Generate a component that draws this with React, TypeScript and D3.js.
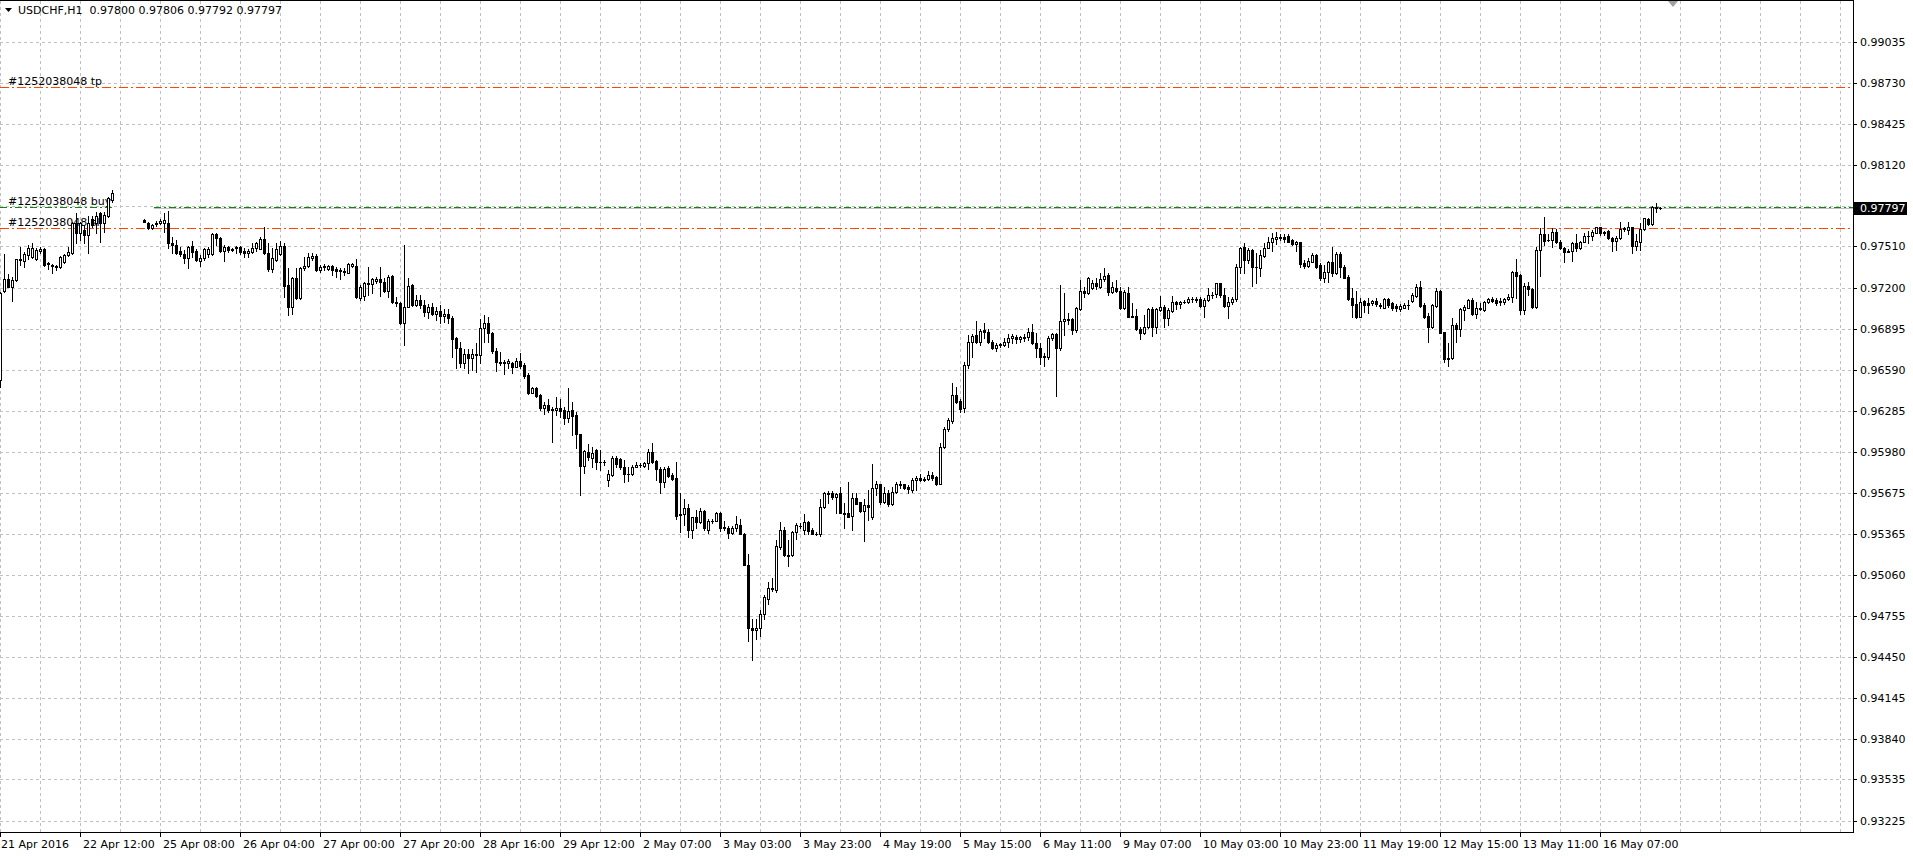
import React from "react";
import * as d3 from "d3";

// ---------- data ----------
const symbolTitle = "USDCHF,H1";
const headerQuote = [0.978, 0.97806, 0.97792, 0.97797]; // O H L C of the last bar
const bidPrice = 0.97797;
const orderTicket = "#1252038048";
const orderOpenPrice = 0.97802;
const orderSl = 0.97645;
const orderTp = 0.987;

const priceTicks = [
  0.99035, 0.9873, 0.98425, 0.9812, 0.97815, 0.9751, 0.972, 0.96895, 0.9659, 0.96285,
  0.9598, 0.95675, 0.95365, 0.9506, 0.94755, 0.9445, 0.94145, 0.9384, 0.93535, 0.93225,
];
const timeLabels = [
  "21 Apr 2016", "22 Apr 12:00", "25 Apr 08:00", "26 Apr 04:00", "27 Apr 00:00", "27 Apr 20:00",
  "28 Apr 16:00", "29 Apr 12:00", "2 May 07:00", "3 May 03:00", "3 May 23:00", "4 May 19:00",
  "5 May 15:00", "6 May 11:00", "9 May 07:00", "10 May 03:00", "10 May 23:00", "11 May 19:00",
  "12 May 15:00", "13 May 11:00", "16 May 07:00",
];
const barsPerTimeLabel = 20;
const barsPerGridColumn = 10;

const N = null;
const open = [
  .96513,.97180,.97267,.97210,.97259,.97414,.97404,.97446,.97433,.97419,
  .97476,.97493,.97384,.97371,.97364,.97354,.97391,.97443,.97458,.97687,
  .97613,.97632,.97595,.97712,.97687,.97762,.97687,.97739,.97856,N,
  N,N,N,N,N,N,.97707,.97687,.97645,.97675,
  .97682,.97682,.97682,.97538,.97521,.97478,.97453,.97426,.97513,.97478,
  .97404,.97421,.97453,.97453,.97600,.97570,.97478,.97508,.97491,.97508,
  .97508,.97478,.97458,.97471,.97496,.97493,.97565,.97458,.97341,.97409,
  .97453,.97516,.97222,.97060,.97272,.97123,.97346,.97364,.97421,.97438,
  .97334,.97354,.97339,.97364,.97339,.97334,.97319,.97314,.97364,.97364,
  .97123,.97140,.97230,.97230,.97254,.97269,.97247,.97180,.97289,.97098,
  .97090,.96941,.97060,.97222,.97073,.97110,.97070,.97020,.97060,.97010,
  .97030,.96990,.97010,.96975,.96824,.96750,.96643,.96705,.96675,.96700,
  .96700,.96899,.96936,.96862,.96732,.96650,.96638,.96638,.96638,.96613,
  .96658,.96625,.96551,.96419,.96451,.96401,.96307,.96327,.96294,.96294,
  .96307,.96290,.96232,.96290,.96252,.96110,.95874,.95979,.95936,.95991,
  .95904,.95904,.95767,.95805,.95936,.95924,.95867,.95812,.95810,.95867,
  .95877,.95874,.95892,.95974,.95909,.95847,.95755,.95859,.95805,.95780,
  .95514,.95514,.95563,.95399,.95489,.95456,.95538,.95399,.95459,.95464,
  .95519,.95414,.95414,.95374,.95407,.95431,.95369,.95138,.94661,.94653,
  .94668,.94772,.94884,.94959,.94951,.95270,.95399,.95208,.95208,.95377,
  .95424,.95399,.95456,.95399,.95367,.95369,.95568,.95663,.95675,.95643,
  .95668,.95523,.95523,.95499,.95635,.95601,.95538,.95581,.95489,.95705,
  .95735,.95606,.95675,.95588,.95680,.95742,.95737,.95717,.95693,.95767,
  .95780,.95775,.95775,.95809,.95787,.95742,.96016,.96145,.96210,.96401,
  .96357,.96302,.96625,.96794,.96849,.96794,.96886,.96874,.96799,.96755,
  .96774,.96774,.96799,.96824,.96837,.96817,.96837,.96832,.96869,.96792,
  .96755,.96687,.96682,.96824,.96854,.96750,.96954,.96966,.96966,.96886,
  .97046,.97177,.97160,.97197,.97235,.97205,.97264,.97297,.97172,.97197,
  .97177,.97053,.97165,.96991,.96991,.96891,.96861,.96911,.97041,.96906,
  .97036,.97055,.96973,.97031,.97093,.97080,.97095,.97093,.97115,.97120,
  .97115,.97065,.97110,.97145,.97152,.97235,.97148,.97065,.97098,.97115,
  .97359,.97503,.97409,.97483,.97359,.97351,.97441,.97501,.97540,.97563,
  .97575,.97583,.97590,.97558,.97526,.97540,.97384,.97366,.97396,.97446,
  .97371,.97277,.97317,.97391,.97314,.97456,.97359,.97279,.97123,.97078,
  .96986,.97103,.97090,.97085,.97103,.97073,.97053,.97118,.97090,.97065,
  .97041,.97053,.97070,.97103,.97143,.97207,.97073,.96993,.96911,.97068,
  .97177,.96869,.96672,.96675,.96924,.96894,.97036,.97053,.97110,.97003,
  .97045,.97036,.97093,.97115,.97108,.97093,.97098,.97115,.97130,.97317,
  .97297,.97036,.97217,.97192,.97060,.97483,.97600,.97555,.97558,.97615,
  .97545,.97496,.97471,.97476,.97533,.97496,.97545,.97588,.97590,.97613,
  .97652,.97613,.97625,.97575,.97550,.97570,.97640,.97632,.97652,.97516,
  .97545,.97640,.97715,.97677,.97802,.97800,
];
const high = [
  .97172,.97453,.97302,.97284,.97419,.97508,.97471,.97521,.97533,.97496,
  .97508,.97498,.97396,.97379,.97371,.97438,.97453,.97508,.97695,.97757,
  .97695,.97670,.97737,.97737,.97769,.97769,.97769,.97876,.97931,N,
  N,N,N,N,N,N,.97712,.97695,.97675,.97697,
  .97712,.97757,.97777,.97583,.97558,.97508,.97483,.97513,.97553,.97488,
  .97446,.97496,.97508,.97608,.97613,.97578,.97521,.97513,.97501,.97516,
  .97513,.97496,.97488,.97538,.97545,.97578,.97657,.97533,.97496,.97533,
  .97553,.97538,.97346,.97284,.97346,.97354,.97433,.97463,.97463,.97453,
  .97371,.97379,.97371,.97371,.97354,.97346,.97346,.97384,.97389,.97414,
  .97222,.97247,.97354,.97272,.97284,.97354,.97272,.97297,.97297,.97135,
  .97098,.97521,.97272,.97230,.97147,.97150,.97110,.97080,.97090,.97060,
  .97070,.97040,.97040,.96990,.96837,.96794,.96742,.96742,.96742,.96792,
  .96966,.96998,.96986,.96874,.96750,.96725,.96663,.96670,.96650,.96675,
  .96712,.96638,.96563,.96464,.96464,.96409,.96352,.96369,.96309,.96384,
  .96372,.96309,.96451,.96352,.96277,.96115,.95991,.96036,.96011,.95996,
  .95991,.95916,.95842,.95946,.95946,.95929,.95916,.95867,.95879,.95904,
  .95897,.95904,.95996,.96041,.95916,.95867,.95867,.95874,.95817,.95899,
  .95673,.95623,.95593,.95494,.95548,.95563,.95543,.95474,.95474,.95528,
  .95528,.95461,.95424,.95424,.95499,.95481,.95374,.95215,.94728,.94728,
  .94802,.94909,.95009,.95041,.95320,.95456,.95419,.95320,.95387,.95444,
  .95444,.95514,.95464,.95407,.95382,.95630,.95680,.95688,.95688,.95673,
  .95717,.95598,.95750,.95668,.95668,.95606,.95623,.95693,.95891,.95762,
  .95742,.95713,.95693,.95717,.95750,.95762,.95742,.95730,.95780,.95797,
  .95812,.95787,.95837,.95829,.95797,.96046,.96160,.96227,.96488,.96463,
  .96369,.96650,.96849,.96856,.96956,.96891,.96941,.96891,.96812,.96787,
  .96792,.96824,.96856,.96856,.96849,.96842,.96856,.96899,.96929,.96861,
  .96792,.96717,.96842,.96866,.96861,.97222,.97165,.97011,.96973,.97055,
  .97259,.97210,.97284,.97259,.97272,.97309,.97346,.97309,.97247,.97259,
  .97205,.97185,.97205,.97090,.97041,.96911,.96998,.97048,.97055,.97053,
  .97140,.97073,.97048,.97140,.97105,.97103,.97110,.97135,.97135,.97135,
  .97135,.97123,.97197,.97172,.97240,.97240,.97197,.97135,.97135,.97379,
  .97508,.97533,.97496,.97488,.97458,.97483,.97533,.97583,.97608,.97615,
  .97600,.97600,.97600,.97565,.97550,.97545,.97409,.97421,.97458,.97451,
  .97384,.97371,.97401,.97508,.97471,.97471,.97371,.97297,.97197,.97177,
  .97123,.97110,.97123,.97110,.97123,.97085,.97123,.97128,.97098,.97078,
  .97078,.97085,.97110,.97160,.97227,.97252,.97085,.97011,.97078,.97202,
  .97185,.96874,.96787,.96978,.96936,.97048,.97073,.97118,.97123,.97093,
  .97085,.97103,.97128,.97135,.97123,.97123,.97123,.97152,.97327,.97416,
  .97302,.97235,.97242,.97197,.97508,.97645,.97732,.97600,.97645,.97640,
  .97558,.97508,.97491,.97540,.97600,.97550,.97608,.97625,.97632,.97657,
  .97657,.97625,.97632,.97583,.97590,.97690,.97657,.97690,.97657,.97600,
  .97682,.97724,.97724,.97814,.97831,.97806,
];
const low = [
  .96464,.97172,.97205,.97105,.97254,.97371,.97359,.97414,.97421,.97409,
  .97458,.97364,.97339,.97309,.97334,.97346,.97384,.97438,.97453,.97533,
  .97558,.97533,.97463,.97657,.97608,.97545,.97620,.97727,.97844,N,
  N,N,N,N,N,N,.97690,.97637,.97642,.97665,
  .97677,.97620,.97496,.97458,.97453,.97438,.97389,.97346,.97433,.97404,
  .97364,.97409,.97433,.97446,.97521,.97471,.97404,.97471,.97478,.97458,
  .97453,.97428,.97433,.97463,.97478,.97488,.97453,.97329,.97322,.97404,
  .97446,.97135,.96998,.97006,.97115,.97115,.97334,.97354,.97409,.97329,
  .97322,.97334,.97334,.97297,.97284,.97264,.97297,.97309,.97354,.97123,
  .97110,.97110,.97147,.97160,.97235,.97140,.97172,.97135,.97090,.97065,
  .96931,.96774,.97055,.97065,.97065,.97050,.96990,.96980,.97000,.96960,
  .96940,.96950,.96940,.96682,.96600,.96608,.96600,.96563,.96588,.96575,
  .96638,.96799,.96799,.96717,.96583,.96625,.96556,.96600,.96568,.96608,
  .96605,.96526,.96409,.96414,.96389,.96294,.96260,.96277,.96053,.96252,
  .96240,.96185,.96202,.96103,.96008,.95660,.95817,.95921,.95862,.95847,
  .95842,.95879,.95725,.95797,.95867,.95854,.95755,.95762,.95805,.95862,
  .95867,.95862,.95854,.95892,.95767,.95673,.95713,.95792,.95767,.95481,
  .95382,.95431,.95344,.95339,.95407,.95449,.95399,.95374,.95449,.95459,
  .95389,.95399,.95339,.95362,.95389,.95362,.95133,.94569,.94429,.94586,
  .94603,.94735,.94847,.94941,.94934,.95257,.95203,.95126,.95200,.95327,
  .95414,.95364,.95364,.95364,.95357,.95349,.95563,.95598,.95630,.95524,
  .95519,.95414,.95489,.95399,.95588,.95531,.95315,.95469,.95481,.95655,
  .95593,.95598,.95573,.95581,.95668,.95712,.95698,.95668,.95680,.95693,
  .95762,.95762,.95767,.95772,.95730,.95737,.96004,.96135,.96195,.96339,
  .96277,.96277,.96600,.96687,.96787,.96774,.96824,.96787,.96742,.96732,
  .96762,.96767,.96757,.96792,.96787,.96799,.96807,.96812,.96782,.96687,
  .96633,.96618,.96668,.96812,.96396,.96737,.96849,.96931,.96856,.96874,
  .97036,.97135,.97155,.97190,.97190,.97197,.97254,.97148,.97165,.97172,
  .97046,.97046,.96981,.96981,.96886,.96822,.96856,.96899,.96842,.96866,
  .97031,.96906,.96924,.97023,.97041,.97048,.97085,.97085,.97098,.97098,
  .97060,.96986,.97105,.97123,.97135,.97135,.97055,.96973,.97080,.97105,
  .97309,.97309,.97384,.97215,.97235,.97292,.97434,.97496,.97476,.97526,
  .97558,.97540,.97540,.97521,.97476,.97359,.97351,.97359,.97391,.97351,
  .97259,.97242,.97247,.97292,.97304,.97284,.97272,.97110,.96986,.96973,
  .96981,.97023,.97011,.97073,.97068,.97053,.97048,.97060,.97036,.97028,
  .97028,.97048,.97043,.97098,.97135,.97060,.96978,.96799,.96904,.97060,
  .96861,.96650,.96620,.96670,.96799,.96844,.96961,.97048,.96998,.96973,
  .97036,.97028,.97085,.97093,.97073,.97073,.97078,.97110,.97098,.97123,
  .97003,.97003,.97147,.97048,.97048,.97292,.97521,.97550,.97508,.97533,
  .97491,.97396,.97466,.97401,.97476,.97491,.97540,.97533,.97558,.97608,
  .97595,.97595,.97565,.97476,.97483,.97565,.97625,.97600,.97458,.97483,
  .97483,.97632,.97670,.97670,.97764,.97792,
];
const close = [
  .97160,.97264,.97210,.97259,.97414,.97406,.97453,.97501,.97501,.97483,
  .97493,.97374,.97376,.97364,.97354,.97429,.97446,.97466,.97687,.97613,
  .97682,.97595,.97682,.97670,.97737,.97682,.97744,.97869,.97906,N,
  N,N,N,N,N,N,.97695,.97645,.97670,.97687,
  .97702,.97707,.97533,.97521,.97458,.97453,.97426,.97508,.97471,.97409,
  .97426,.97491,.97491,.97600,.97570,.97478,.97508,.97483,.97483,.97496,
  .97468,.97458,.97478,.97496,.97533,.97563,.97458,.97341,.97426,.97488,
  .97516,.97215,.97060,.97272,.97123,.97346,.97364,.97433,.97438,.97334,
  .97354,.97364,.97364,.97334,.97329,.97327,.97329,.97376,.97376,.97130,
  .97210,.97235,.97240,.97264,.97264,.97247,.97180,.97284,.97098,.97085,
  .96936,.97060,.97215,.97073,.97110,.97070,.97020,.97060,.97010,.97030,
  .96990,.97010,.96975,.96817,.96750,.96643,.96705,.96675,.96705,.96705,
  .96899,.96936,.96862,.96732,.96650,.96638,.96645,.96655,.96613,.96658,
  .96618,.96543,.96419,.96451,.96394,.96302,.96327,.96290,.96299,.96302,
  .96285,.96232,.96285,.96247,.96108,.95874,.95984,.95941,.95971,.95904,
  .95899,.95902,.95812,.95936,.95887,.95862,.95810,.95810,.95867,.95879,
  .95879,.95892,.95974,.95904,.95847,.95755,.95854,.95800,.95775,.95501,
  .95504,.95563,.95399,.95489,.95456,.95538,.95407,.95461,.95461,.95519,
  .95414,.95417,.95374,.95407,.95437,.95369,.95138,.94661,.94648,.94668,
  .94772,.94892,.94964,.94964,.95275,.95399,.95208,.95205,.95377,.95431,
  .95427,.95456,.95389,.95369,.95369,.95568,.95668,.95675,.95638,.95663,
  .95523,.95514,.95494,.95635,.95593,.95538,.95581,.95568,.95705,.95735,
  .95606,.95675,.95593,.95680,.95735,.95730,.95712,.95698,.95767,.95785,
  .95767,.95772,.95809,.95780,.95742,.96016,.96145,.96215,.96401,.96352,
  .96297,.96625,.96794,.96844,.96794,.96881,.96874,.96799,.96750,.96774,
  .96779,.96799,.96824,.96842,.96817,.96832,.96824,.96869,.96787,.96750,
  .96687,.96692,.96824,.96856,.96750,.96954,.96966,.96961,.96886,.97048,
  .97177,.97160,.97272,.97235,.97215,.97264,.97292,.97172,.97205,.97177,
  .97053,.97172,.96986,.96986,.96891,.96861,.96911,.97041,.96911,.97043,
  .97055,.96973,.97036,.97098,.97080,.97098,.97098,.97115,.97120,.97110,
  .97065,.97110,.97148,.97148,.97235,.97148,.97065,.97098,.97115,.97359,
  .97501,.97409,.97483,.97359,.97354,.97446,.97501,.97540,.97570,.97580,
  .97580,.97565,.97545,.97526,.97540,.97381,.97366,.97401,.97446,.97359,
  .97277,.97317,.97391,.97314,.97451,.97359,.97277,.97118,.97073,.96981,
  .97098,.97073,.97073,.97103,.97078,.97065,.97115,.97073,.97053,.97048,
  .97065,.97073,.97073,.97147,.97207,.97068,.96986,.96911,.97073,.97177,
  .96866,.96667,.96675,.96924,.96894,.97043,.97055,.97110,.97003,.97048,
  .97048,.97098,.97118,.97103,.97085,.97103,.97118,.97135,.97317,.97292,
  .97036,.97217,.97190,.97060,.97483,.97600,.97550,.97558,.97615,.97545,
  .97496,.97471,.97476,.97533,.97496,.97540,.97585,.97590,.97615,.97652,
  .97608,.97615,.97570,.97550,.97575,.97640,.97645,.97652,.97516,.97550,
  .97640,.97719,.97675,.97806,.97799,.97797,
];

// ---------- layout ----------
const WIDTH = 1913;
const HEIGHT = 856;
const PLOT_RIGHT = 1853;
const PLOT_BOTTOM = 832;
const FONT = "'DejaVu Sans', Verdana, sans-serif";
const GRID = "#c0c0c0";
const ORDER_RED = "#ff4500";
const ORDER_GREEN = "#0a8a0a";

export default function App() {
  const x = d3.scaleLinear().domain([0, 1]).range([0, 4]); // pixel column of bar centre
  const y = d3.scaleLinear().domain([0.93225, 0.99035]).range([821, 42]);
  const row = (p: number) => Math.round(y(p));
  const fmt = d3.format(".5f");

  const lastIndex = Math.floor(x.invert(PLOT_RIGHT));
  const gridCols = d3.range(0, lastIndex + 1, barsPerGridColumn).map((i) => x(i));

  const candles = open.map((o, i) => {
    const c = close[i], h = high[i], l = low[i];
    if (o == null || c == null || h == null || l == null) return null;
    const cx = x(i);
    const top = row(Math.max(o, c));
    const bot = row(Math.min(o, c));
    const hi = row(Math.max(h, o, c));
    const lo = row(Math.min(l, o, c));
    const bull = c > o;
    return (
      <g key={i}>
        <rect x={cx} y={hi} width={1} height={lo - hi + 1} fill="#000" />
        <rect x={cx - 1} y={top} width={3} height={bot - top + 1} fill="#000" />
        {bull && bot - top > 1 && <rect x={cx} y={top + 1} width={1} height={bot - top - 1} fill="#fff" />}
      </g>
    );
  });

  const bidRow = row(bidPrice);
  const openRow = row(orderOpenPrice);
  const slRow = row(orderSl);
  const tpRow = row(orderTp);
  const gapStart = x(29) - 3;
  const gapEnd = x(38) + 2;

  return (
    <svg
      width={WIDTH}
      height={HEIGHT}
      style={{ position: "absolute", left: 0, top: 0, background: "#fff" }}
      fontFamily={FONT}
      fontSize={11}
    >
      <rect x={0} y={0} width={WIDTH} height={HEIGHT} fill="#fff" />
      {/* grid */}
      <g stroke={GRID} strokeWidth={1} strokeDasharray="3 3" shapeRendering="crispEdges">
        {priceTicks.map((t) => (
          <line key={"h" + t} x1={0} x2={PLOT_RIGHT} y1={row(t) + 0.5} y2={row(t) + 0.5} />
        ))}
        {gridCols.map((gx) => (
          <line key={"v" + gx} x1={gx + 0.5} x2={gx + 0.5} y1={1} y2={PLOT_BOTTOM} />
        ))}
      </g>

      {/* order lines */}
      <g shapeRendering="crispEdges" strokeWidth={1}>
        <line x1={0} x2={PLOT_RIGHT} y1={tpRow + 0.5} y2={tpRow + 0.5} stroke={ORDER_RED} strokeDasharray="9 3 2 3" />
        <line x1={0} x2={PLOT_RIGHT} y1={slRow + 0.5} y2={slRow + 0.5} stroke={ORDER_RED} strokeDasharray="9 3 2 3" />
        <line x1={gapEnd} x2={PLOT_RIGHT} y1={bidRow + 0.5} y2={bidRow + 0.5} stroke="#c0c0c0" />
        <line x1={0} x2={gapStart} y1={openRow + 0.5} y2={openRow + 0.5} stroke={ORDER_GREEN} strokeDasharray="7 3 2 3" />
        <line x1={gapEnd} x2={PLOT_RIGHT} y1={openRow + 0.5} y2={openRow + 0.5} stroke={ORDER_GREEN} strokeDasharray="7 3 2 3" />
      </g>
      <g fill="#000">
        <text x={8} y={tpRow - 2}>{orderTicket} tp</text>
        <text x={8} y={openRow - 2}>{orderTicket} buy</text>
        <text x={8} y={slRow - 2}>{orderTicket} sl</text>
      </g>

      {/* candles */}
      <g shapeRendering="crispEdges">{candles}</g>

      {/* frame */}
      <g stroke="#000" strokeWidth={1} shapeRendering="crispEdges">
        <line x1={0} x2={PLOT_RIGHT + 1} y1={0.5} y2={0.5} />
        <line x1={PLOT_RIGHT + 0.5} x2={PLOT_RIGHT + 0.5} y1={0} y2={PLOT_BOTTOM + 1} />
        <line x1={0} x2={PLOT_RIGHT + 1} y1={PLOT_BOTTOM + 0.5} y2={PLOT_BOTTOM + 0.5} />
        {priceTicks.map((t) => (
          <line key={"pt" + t} x1={PLOT_RIGHT} x2={PLOT_RIGHT + 4} y1={row(t) + 0.5} y2={row(t) + 0.5} />
        ))}
        {timeLabels.map((_, k) => {
          const tx = x(k * barsPerTimeLabel) + 0.5;
          return <line key={"tt" + k} x1={tx} x2={tx} y1={PLOT_BOTTOM} y2={PLOT_BOTTOM + 5} />;
        })}
      </g>

      {/* price labels */}
      <g fill="#000">
        {priceTicks.map((t) => (
          <text key={"pl" + t} x={PLOT_RIGHT + 7} y={row(t) + 4}>{fmt(t)}</text>
        ))}
      </g>
      <rect x={PLOT_RIGHT + 1} y={bidRow - 6} width={53} height={13} fill="#000" />
      <text x={PLOT_RIGHT + 7} y={bidRow + 4} fill="#fff">{fmt(bidPrice)}</text>

      {/* time labels */}
      <g fill="#000">
        {timeLabels.map((lab, k) => (
          <text key={"tl" + k} x={x(k * barsPerTimeLabel) + (k === 0 ? 1 : 3)} y={848}>{lab}</text>
        ))}
      </g>

      {/* header */}
      <path d="M5,8 L12,8 L8.5,12 Z" fill="#000" />
      <text x={18} y={14} fill="#000">
        {symbolTitle}{"\u00a0\u00a0"}{headerQuote.map(fmt).join(" ")}
      </text>

      {/* chart shift marker */}
      <path d={`M${x(lastIndex - 46) + 0},1 L${x(lastIndex - 46) + 10},1 L${x(lastIndex - 46) + 5},7 Z`} fill="#a0a0a0" />
    </svg>
  );
}
